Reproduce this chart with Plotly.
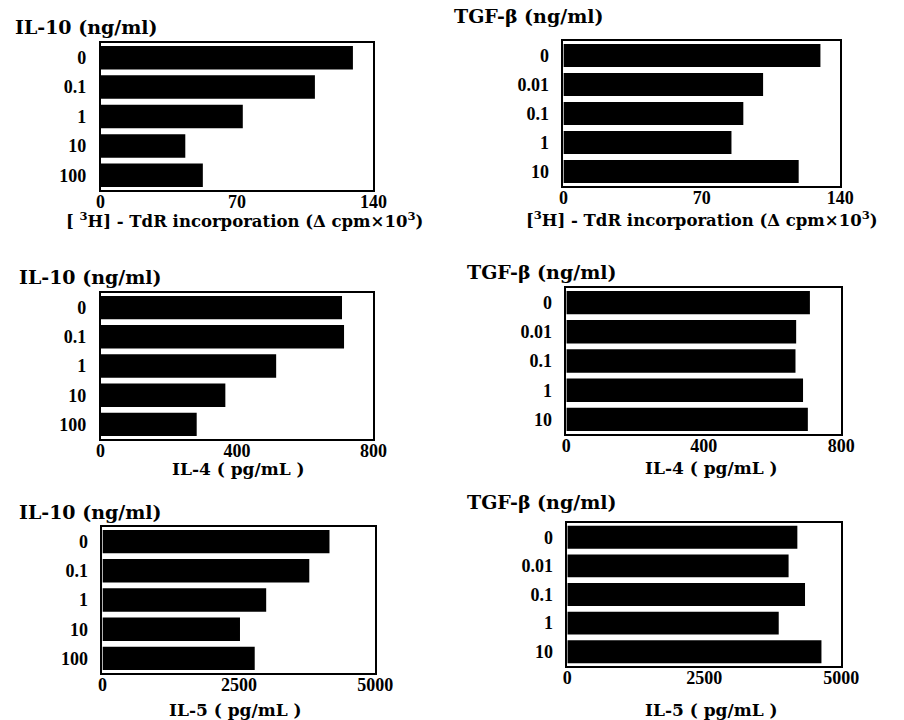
import plotly.graph_objects as go

# ---------------- data ----------------
il10_levels = ["0", "0.1", "1", "10", "100"]
tgf_levels = ["0", "0.01", "0.1", "1", "10"]

il10_tdr = [129.5, 110, 73, 43.5, 52.5]
tgf_tdr = [130, 101, 91, 85, 119]

il10_il4 = [708, 714, 515, 366, 282]
tgf_il4 = [709, 669, 667, 689, 703]

il10_il5 = [4160, 3790, 3000, 2520, 2790]
tgf_il5 = [4200, 4040, 4340, 3860, 4640]

tdr_ticks = [0, 70, 140]
il4_ticks = [0, 400, 800]
il5_ticks = [0, 2500, 5000]

il10_title = "IL-10 (ng/ml)"
tgf_title = "TGF-β (ng/ml)"
tdr_title_l = "[ <sup>3</sup>H] - TdR incorporation (Δ cpm×10<sup>3</sup>)"
tdr_title_r = "[<sup>3</sup>H] - TdR incorporation (Δ cpm×10<sup>3</sup>)"
il4_title = "IL-4 ( pg/mL )"
il5_title = "IL-5 ( pg/mL )"

# ---------------- layout helpers ----------------
W, H = 904, 720
def px(x):
    return x / W
def py(y):
    return 1 - y / H

TICKFONT = dict(family="Liberation Serif", size=18, color="black", weight="bold")
TITLEFONT = dict(family="DejaVu Serif", size=19, color="black", weight="bold")

panels = [
    # levels, values, xmax, ticks, title, xtitle, box(x0,x1,y0,y1), title(x,y), xtitle(x,y,size)
    (il10_levels, il10_tdr, 140, tdr_ticks, il10_title, tdr_title_l, (98, 378, 43, 190), (8, 27), (246, 220, 16.5)),
    (tgf_levels, tgf_tdr, 140, tdr_ticks, tgf_title, tdr_title_r, (573, 857, 41, 186), (459, 16), (715, 219, 16.5)),
    (il10_levels, il10_il4, 800, il4_ticks, il10_title, il4_title, (98, 378, 293, 439), (12, 277), (240, 469, 17)),
    (tgf_levels, tgf_il4, 800, il4_ticks, tgf_title, il4_title, (576, 858, 288, 434), (472, 272), (725, 468, 17)),
    (il10_levels, il10_il5, 5000, il5_ticks, il10_title, il5_title, (100, 380, 527, 673), (12, 512), (237, 710, 17)),
    (tgf_levels, tgf_il5, 5000, il5_ticks, tgf_title, il5_title, (577, 858, 523, 666), (472, 502), (725, 710, 17)),
]

fig = go.Figure()
layout = dict(
    width=W, height=H,
    margin=dict(l=0, r=0, t=0, b=0),
    paper_bgcolor="white", plot_bgcolor="white",
    showlegend=False, bargap=0.2,
    annotations=[],
)

for i, (levels, vals, xmax, ticks, title, xtitle, box, tpos, xtpos) in enumerate(panels, start=1):
    xa = "x" if i == 1 else f"x{i}"
    ya = "y" if i == 1 else f"y{i}"
    fig.add_trace(go.Bar(
        x=vals, y=levels, orientation="h",
        marker=dict(color="black", line=dict(width=0)),
        xaxis=xa, yaxis=ya, hoverinfo="x+y",
    ))
    x0, x1, y0, y1 = box
    layout[f"xaxis{'' if i == 1 else i}"] = dict(
        domain=[px(x0), px(x1)], anchor=ya, range=[0, xmax],
        tickvals=ticks, ticktext=[str(t) for t in ticks],
        showgrid=False, zeroline=False, showline=True, mirror=True,
        linecolor="black", linewidth=1.5, ticks="", tickfont=TICKFONT,
        ticklabelstandoff=-5,
    )
    layout[f"yaxis{'' if i == 1 else i}"] = dict(
        domain=[py(y1), py(y0)], anchor=xa, type="category",
        categoryorder="array", categoryarray=levels, autorange="reversed",
        showgrid=False, zeroline=False, showline=True, mirror=True,
        linecolor="black", linewidth=1.5, ticks="", tickfont=TICKFONT,
        ticklabelstandoff=9,
    )
    layout["annotations"].append(dict(
        text=title, x=px(tpos[0]), y=py(tpos[1]), xref="paper", yref="paper",
        xanchor="left", yanchor="middle", showarrow=False, font=TITLEFONT,
    ))
    layout["annotations"].append(dict(
        text=xtitle, x=px(xtpos[0]), y=py(xtpos[1]), xref="paper", yref="paper",
        xanchor="center", yanchor="middle", showarrow=False,
        font=dict(family="DejaVu Serif", size=xtpos[2], color="black", weight="bold"),
    ))

fig.update_layout(**layout)
fig.write_html(
    "out.html",
    config={"displayModeBar": False},
    post_script="document.body.style.margin='0';document.body.style.padding='0';",
)
